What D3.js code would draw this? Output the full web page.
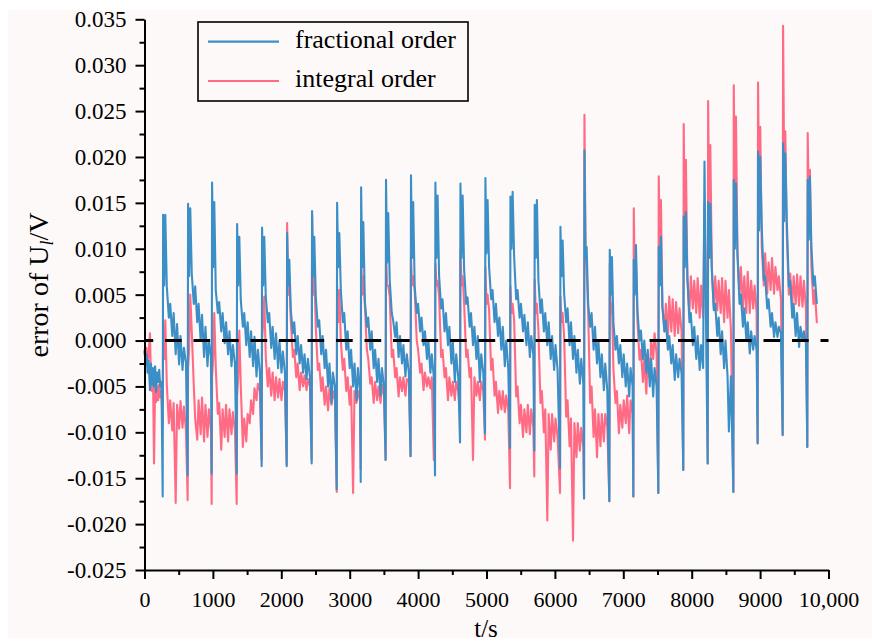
<!DOCTYPE html>
<html><head><meta charset="utf-8">
<script src="https://cdn.jsdelivr.net/npm/d3@7"></script>
<style>
body{margin:0;background:#fff}
svg{display:block}
svg text{font-family:"Liberation Serif","Times New Roman",serif !important;fill:#000}
</style>
</head><body>
<svg id="chart" width="872" height="643"></svg>
<script>
// ---------- data (error values in mV, time in s) ----------
const cycleStart = [266,631,982,1348,1713,2079,2444,2810,3161,3525,3890,4247,4613,4978,5344,5699,6075,6426,6796,7147,7512,7877,8234,8609,8964,9330,9690];
const sampleOffset = [0,6,22,38,60,90,110,140,160,190,210,240,260,290,310,340];

const leadTime = [0,15,30,45,60,80,95,110,125,139,155,170,185,200,215,230,248];
const leadFrac = [-1.0,-2.5,-1.5,-3.5,-2.2,-5.4,-2.5,-4.8,-3.0,-5.0,-2.8,-5.6,-3.5,-4.5,-3.2,-5.0,-4.5];
const leadInt  = [-1.2,-2.0,-0.8,-2.8,-1.5,0.8,-4.5,-5.5,-4.0,-13.4,-5.0,-6.7,-5.0,-6.5,-4.8,-6.2,-5.5];

const fracCycles = [
 [-17.0,13.7,6.0,13.7,5.9,2.5,4.0,0.5,3.0,-1.5,1.8,-2.6,0.5,-3.2,-0.8,-2.4],
 [-14.7,14.9,7.0,14.4,7.3,4.0,5.9,2.0,4.0,0.0,2.8,-1.8,1.5,-2.8,0.0,-1.8],
 [-14.5,17.2,8.0,15.1,5.5,3.0,4.2,1.0,3.0,-0.3,2.0,-1.5,1.0,-2.8,-0.5,-2.5],
 [-14.5,12.7,6.0,11.3,4.4,1.5,3.0,-0.5,2.0,-1.8,1.0,-2.8,0.4,-3.9,-1.0,-3.5],
 [-13.7,12.3,6.0,11.3,4.8,2.0,3.0,-0.8,1.5,-2.0,0.8,-3.0,0.0,-3.5,-1.2,-3.5],
 [-13.7,11.7,6.0,8.8,3.3,0.8,2.0,-1.5,0.5,-2.5,-0.5,-3.5,-1.5,-4.2,-2.0,-4.0],
 [-13.4,14.1,7.0,11.3,4.8,1.5,2.2,-1.5,0.5,-3.0,-1.0,-5.0,-2.5,-6.8,-3.5,-5.0],
 [-16.2,15.0,8.0,11.7,5.5,2.0,3.0,-1.0,1.0,-3.0,-1.0,-5.0,-2.5,-6.5,-3.0,-5.5],
 [-15.4,16.7,8.0,12.9,4.4,1.5,2.5,-1.0,1.0,-3.0,-1.0,-4.5,-2.0,-6.0,-3.0,-5.0],
 [-13.0,17.5,8.5,13.9,6.6,3.0,2.2,0.4,2.0,-1.8,0.5,-2.5,-0.5,-3.9,-1.5,-3.5],
 [-12.6,18.0,9.0,15.1,5.9,3.0,4.0,1.0,2.5,-0.5,1.0,-2.0,0.0,-3.5,-1.5,-4.0],
 [-14.7,17.2,9.0,15.8,7.0,3.5,4.5,1.0,3.0,-0.5,1.5,-2.5,0.0,-4.5,-1.5,-4.0],
 [-11.1,17.1,9.0,15.8,7.7,4.0,4.7,1.5,3.0,-0.5,1.5,-2.0,0.5,-4.5,-1.5,-3.5],
 [-10.1,17.7,9.5,15.3,8.0,4.5,5.5,2.0,4.0,0.5,2.5,-1.0,1.5,-2.8,0.0,-3.0],
 [-11.7,15.7,10.0,16.2,9.1,4.5,5.5,2.5,4.0,1.0,2.8,-0.5,2.0,-1.8,0.5,-1.5],
 [-12.0,14.8,9.0,15.3,6.6,3.0,4.5,1.0,3.0,-0.5,2.0,-2.0,0.5,-3.2,-0.5,-3.2],
 [-13.9,12.4,7.0,10.9,5.1,2.0,3.5,-0.5,2.0,-2.0,0.5,-3.5,-1.0,-4.7,-2.0,-4.7],
 [-17.2,20.7,9.0,10.2,4.0,1.5,3.0,-1.0,1.5,-2.5,0.0,-4.0,-1.5,-5.4,-2.5,-5.4],
 [-17.5,9.9,5.0,9.1,1.9,-1.0,0.5,-2.5,-0.5,-4.0,-1.5,-5.0,-2.5,-6.1,-3.0,-5.0],
 [-17.0,8.8,5.0,10.4,3.3,0.0,1.1,-2.0,0.0,-3.5,-1.0,-5.0,-2.0,-6.1,-3.0,-5.0],
 [-16.6,10.2,6.0,11.3,3.7,1.0,2.2,-1.0,0.5,-2.5,-0.5,-4.3,-1.5,-4.0,-2.0,-3.6],
 [-14.1,13.5,8.0,14.0,7.0,2.0,3.0,-0.5,1.5,-2.0,0.5,-3.2,-0.5,-3.0,19.5,-3.2],
 [-13.4,15.1,9.0,14.9,7.7,3.3,4.0,0.5,2.5,-1.5,1.0,-3.0,0.0,-3.9,-9.9,-3.9],
 [-16.5,17.5,10.0,17.1,9.5,4.0,5.0,1.5,3.5,0.0,2.0,-1.4,1.0,-1.0,0.5,-1.0],
 [-11.2,20.6,12.0,20.0,12.4,6.6,7.0,3.5,4.5,1.5,3.0,0.4,2.0,0.4,1.5,0.8],
 [-10.3,21.5,13.0,20.4,13.1,5.9,6.5,2.5,4.0,0.5,3.0,-0.7,1.5,0.0,1.0,-0.3],
 [-11.6,17.5,11.0,17.9,10.2,6.0,7.0,4.0]
];

const intCycles = [
 [-9.5,1.0,-2.0,2.2,-4.8,-9.0,-6.5,-9.8,-6.8,-17.7,-7.0,-9.6,-6.6,-9.5,-7.2,-9.8],
 [-17.4,-3.0,-1.0,5.0,1.0,-5.0,-8.5,-10.8,-6.5,-10.2,-6.2,-11.0,-7.0,-10.5,-7.5,-9.8],
 [-17.8,-4.0,-2.0,3.0,-3.0,-8.0,-6.8,-11.9,-7.5,-10.5,-7.0,-11.0,-7.5,-10.2,-7.8,-9.8],
 [-17.8,-6.0,-4.0,1.1,-5.0,-11.6,-8.5,-11.0,-8.0,-9.0,-6.5,-8.0,-5.2,-6.5,-4.7,-5.5],
 [-13.0,0.0,2.0,4.8,-1.8,-5.0,-3.0,-6.0,-3.5,-6.5,-4.0,-6.2,-4.2,-6.5,-4.5,-5.5],
 [-13.5,12.8,5.0,7.0,2.2,-1.8,-1.0,-4.0,-2.5,-5.4,-3.5,-5.0,-3.8,-5.4,-4.2,-5.0],
 [-13.0,13.7,5.0,8.0,1.5,-3.2,-2.5,-5.5,-4.0,-7.0,-5.0,-7.6,-5.2,-7.0,-5.5,-6.5],
 [-16.5,6.0,2.0,5.5,0.0,-3.2,-2.0,-5.5,-4.0,-7.0,-5.0,-16.6,-5.5,-6.8,-5.5,-6.5],
 [-14.0,9.9,5.0,7.0,4.0,-1.0,-2.0,-4.7,-4.0,-6.8,-4.5,-6.5,-5.0,-6.8,-4.8,-6.0],
 [-13.0,9.9,6.0,6.0,4.8,-1.8,-1.0,-4.0,-3.0,-6.1,-4.0,-5.5,-4.0,-6.0,-4.2,-4.5],
 [-12.6,9.1,6.0,7.0,5.5,0.0,-1.0,-3.5,-2.5,-5.4,-3.5,-5.0,-4.0,-5.2,-4.0,-13.0],
 [-6.0,8.4,6.0,6.5,4.8,-1.8,-1.0,-4.0,-3.0,-6.5,-4.0,-6.0,-4.5,-6.5,-4.5,-5.5],
 [-8.0,9.9,6.0,7.0,4.0,-1.8,-1.0,-4.0,-3.0,-13.0,-4.0,-6.0,-4.5,-6.5,-4.5,-5.5],
 [-10.8,8.0,4.0,5.0,3.3,-3.2,-2.0,-6.0,-4.5,-7.9,-5.5,-7.5,-5.5,-7.8,-6.0,-7.6],
 [-16.1,5.9,3.0,4.0,2.2,-6.1,-5.0,-9.0,-7.0,-10.5,-7.5,-10.0,-7.0,-10.2,-7.5,-9.4],
 [-14.8,6.6,3.0,4.0,1.1,-6.8,-5.5,-10.0,-7.5,-19.6,-8.0,-11.9,-8.0,-11.0,-8.5,-10.5],
 [-16.6,4.8,2.0,3.0,0.4,-8.3,-6.5,-11.5,-8.5,-21.8,-9.0,-12.7,-9.0,-12.0,-9.5,-11.6],
 [-17.2,24.6,10.0,8.0,3.3,-6.8,-5.0,-10.5,-7.5,-12.7,-8.0,-11.5,-8.0,-11.0,-8.0,-9.4],
 [-17.5,8.4,3.0,4.0,-3.2,-6.8,-5.5,-10.1,-7.0,-9.5,-6.5,-9.0,-6.0,-10.1,-6.5,-8.0],
 [-17.0,14.4,6.0,8.8,2.2,-2.1,-1.0,-4.5,-2.0,-5.8,-1.5,-4.0,0.0,-2.0,0.8,-1.5],
 [-16.6,17.9,10.0,15.3,3.7,1.0,4.0,0.4,4.8,1.0,4.5,0.5,4.2,0.8,3.5,1.0],
 [-14.1,23.6,12.0,19.7,6.6,3.0,7.0,3.5,6.5,3.0,6.8,2.5,6.0,2.5,15.0,2.5],
 [-13.4,26.1,14.0,21.3,8.0,3.5,7.0,3.3,6.5,3.0,6.8,2.0,6.5,2.5,5.5,1.0],
 [-16.5,27.8,15.0,24.4,9.5,5.0,8.0,3.5,7.0,3.0,7.5,3.0,6.5,3.5,6.0,3.0],
 [-11.2,28.1,16.0,23.3,10.2,6.0,9.5,5.1,8.5,5.5,9.0,5.1,8.0,5.5,7.0,4.5],
 [-10.3,34.3,18.0,22.8,11.7,5.0,7.3,3.7,7.0,4.0,7.2,3.8,7.0,3.7,6.5,3.5],
 [-11.6,22.6,14.0,18.6,8.0,4.0,5.5,1.9]
];

const xTickValues = [0,1000,2000,3000,4000,5000,6000,7000,8000,9000,10000];
const xTickLabels = ["0","1000","2000","3000","4000","5000","6000","7000","8000","9000","10,000"];
const xMinorTicks = [500,1500,2500,3500,4500,5500,6500,7500,8500,9500];
const yTickValues = [-0.025,-0.020,-0.015,-0.010,-0.005,0,0.005,0.010,0.015,0.020,0.025,0.030,0.035];
const yTickLabels = ["-0.025","-0.020","-0.015","-0.010","-0.005","0.000","0.005","0.010","0.015","0.020","0.025","0.030","0.035"];
const yMinorTicks = [-0.0225,-0.0175,-0.0125,-0.0075,-0.0025,0.0025,0.0075,0.0125,0.0175,0.0225,0.0275,0.0325];
const seriesNames = ["fractional order","integral order"];
const seriesColors = ["#3b8fc6","#ff6b84"];

const SERIF = '"Liberation Serif","Times New Roman",serif';

// ---------- build point lists ----------
function buildSeries(lead, cycles){
  const pts = leadTime.map((t,i)=>({t, v: lead[i]/1000}));
  cycles.forEach((row,ci)=>{
    row.forEach((v,j)=>pts.push({t: cycleStart[ci]+sampleOffset[j], v: v/1000}));
  });
  return pts;
}
const fracData = buildSeries(leadFrac, fracCycles);
const intData  = buildSeries(leadInt, intCycles);

// ---------- chart ----------
const svg = d3.select("#chart");
svg.append("rect").attr("x",8).attr("y",10).attr("width",864).attr("height",628).attr("fill","#fdf9f8");

const x = d3.scaleLinear().domain([0,10000]).range([144.5,828.5]);
const y = d3.scaleLinear().domain([-0.025,0.035]).range([570,19.3]);

const line = d3.line().x(d=>x(d.t)).y(d=>y(d.v));

svg.append("path").datum(intData).attr("fill","none").attr("stroke",seriesColors[1])
  .attr("stroke-width",2.1).attr("stroke-linejoin","round").attr("d",line);
svg.append("path").datum(fracData).attr("fill","none").attr("stroke",seriesColors[0])
  .attr("stroke-width",2.1).attr("stroke-linejoin","round").attr("d",line);

// zero reference line
svg.append("line").attr("x1",x(0)).attr("x2",x(10000)).attr("y1",y(0)).attr("y2",y(0))
  .attr("stroke","#000").attr("stroke-width",3).attr("stroke-dasharray","16.7,11.8").attr("stroke-dashoffset",8);

// axes
function styleAxis(g, fs){
  g.attr("font-family", null).attr("font-size", null);
  g.selectAll("path.domain").attr("stroke","#000").attr("stroke-width",2);
  g.selectAll(".tick line").attr("stroke","#000").attr("stroke-width",2);
  g.selectAll(".tick text").style("font-family",SERIF).style("font-size",fs+"px").attr("fill","#000");
}
const gxMinor = svg.append("g").attr("transform","translate(0,570)")
  .call(d3.axisBottom(x).tickValues(xMinorTicks).tickSize(5).tickSizeOuter(0).tickFormat(""));
gxMinor.select("path.domain").remove(); styleAxis(gxMinor,22);
const gx = svg.append("g").attr("transform","translate(0,570)")
  .call(d3.axisBottom(x).tickValues(xTickValues).tickSize(9).tickSizeOuter(0).tickPadding(12)
  .tickFormat((d,i)=>xTickLabels[i]));
styleAxis(gx,22);

const gyMinor = svg.append("g").attr("transform","translate(144.5,0)")
  .call(d3.axisLeft(y).tickValues(yMinorTicks).tickSize(5).tickSizeOuter(0).tickFormat(""));
gyMinor.select("path.domain").remove(); styleAxis(gyMinor,22);
const gy = svg.append("g").attr("transform","translate(144.5,0)")
  .call(d3.axisLeft(y).tickValues(yTickValues).tickSize(9).tickSizeOuter(0).tickPadding(9)
  .tickFormat((d,i)=>yTickLabels[i]));
styleAxis(gy,23);

// axis titles
svg.append("text").attr("x",486).attr("y",637).attr("text-anchor","middle").style("font-family",SERIF).style("font-size","25px").text("t/s");
const yl = svg.append("text").attr("transform","translate(47.5,285) rotate(-90)").attr("text-anchor","middle").style("font-family",SERIF).style("font-size","28px");
yl.append("tspan").text("error of U");
yl.append("tspan").style("font-size","18px").attr("dy",5).attr("font-style","italic").text("l");
yl.append("tspan").attr("dy",-5).text("/V");

// legend
const lg = svg.append("g");
lg.append("rect").attr("x",198).attr("y",22).attr("width",270).attr("height",79)
  .attr("fill","none").attr("stroke","#000").attr("stroke-width",1.6);
const legY = [41.7, 81];
const legBase = [47.5, 87];
seriesNames.forEach((n,i)=>{
  lg.append("line").attr("x1",208).attr("x2",279).attr("y1",legY[i]).attr("y2",legY[i])
    .attr("stroke",seriesColors[i]).attr("stroke-width",2.2);
  lg.append("text").attr("x",295).attr("y",legBase[i]).style("font-family",SERIF).style("font-size","26px").text(n);
});
</script>
</body></html>
